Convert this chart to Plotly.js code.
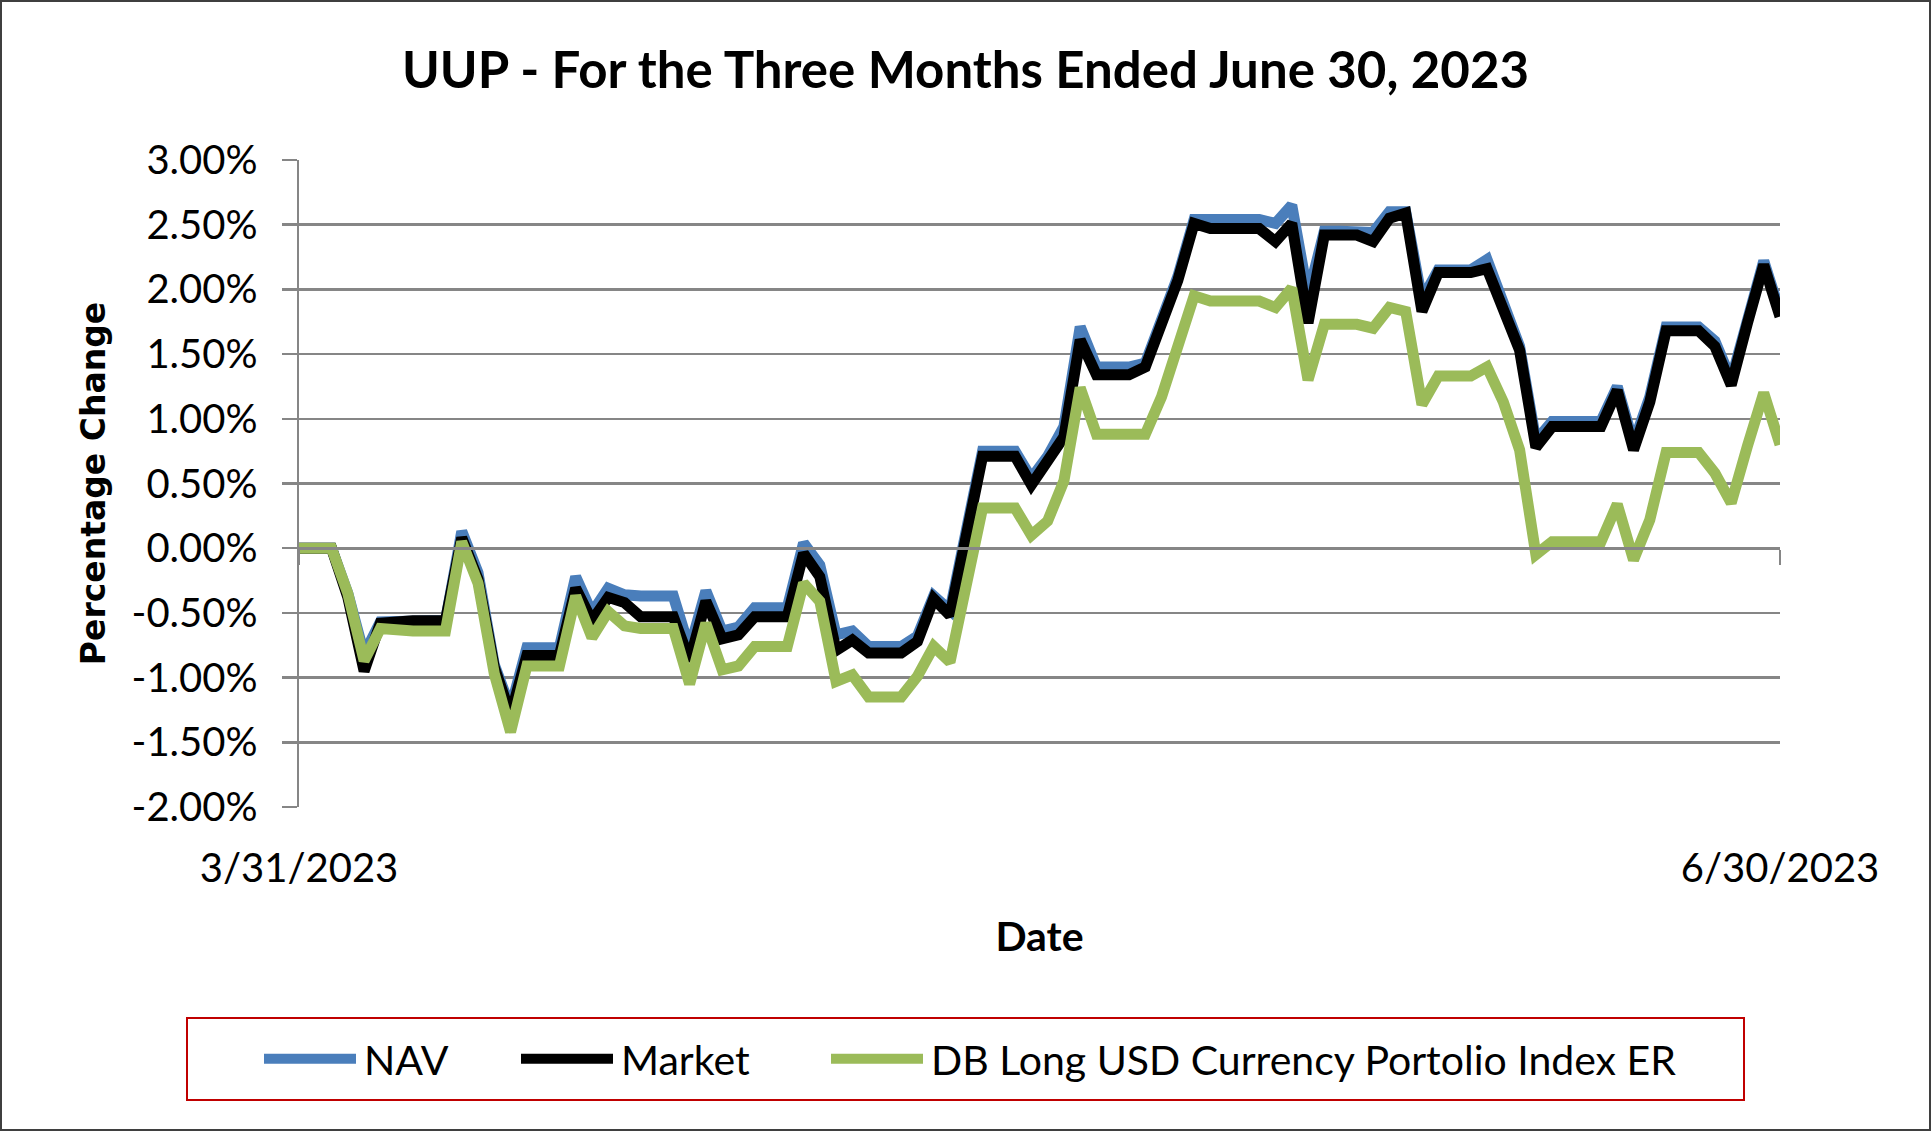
<!DOCTYPE html>
<html>
<head>
<meta charset="utf-8">
<script src="https://cdn.plot.ly/plotly-3.0.1.min.js"></script>
<style>
  html, body { margin: 0; padding: 0; background: #ffffff; }
  #chart { width: 1931px; height: 1131px; }
</style>
</head>
<body>
<div id="chart"></div>
<script>
// ---------------- DATA (calendar days, weekend/holiday values carried) ----------------
const dates = [
  '2023-03-31',
  '2023-04-01','2023-04-02','2023-04-03','2023-04-04','2023-04-05','2023-04-06','2023-04-07',
  '2023-04-08','2023-04-09','2023-04-10','2023-04-11','2023-04-12','2023-04-13','2023-04-14',
  '2023-04-15','2023-04-16','2023-04-17','2023-04-18','2023-04-19','2023-04-20','2023-04-21',
  '2023-04-22','2023-04-23','2023-04-24','2023-04-25','2023-04-26','2023-04-27','2023-04-28',
  '2023-04-29','2023-04-30',
  '2023-05-01','2023-05-02','2023-05-03','2023-05-04','2023-05-05','2023-05-06','2023-05-07',
  '2023-05-08','2023-05-09','2023-05-10','2023-05-11','2023-05-12','2023-05-13','2023-05-14',
  '2023-05-15','2023-05-16','2023-05-17','2023-05-18','2023-05-19','2023-05-20','2023-05-21',
  '2023-05-22','2023-05-23','2023-05-24','2023-05-25','2023-05-26','2023-05-27','2023-05-28',
  '2023-05-29','2023-05-30','2023-05-31',
  '2023-06-01','2023-06-02','2023-06-03','2023-06-04','2023-06-05','2023-06-06','2023-06-07',
  '2023-06-08','2023-06-09','2023-06-10','2023-06-11','2023-06-12','2023-06-13','2023-06-14',
  '2023-06-15','2023-06-16','2023-06-17','2023-06-18','2023-06-19','2023-06-20','2023-06-21',
  '2023-06-22','2023-06-23','2023-06-24','2023-06-25','2023-06-26','2023-06-27','2023-06-28',
  '2023-06-29','2023-06-30'
];

// NAV (percent)
const nav = [
  0.00,
  0.00, 0.00, -0.35, -0.82, -0.57, -0.56, -0.56,
  -0.56, -0.56, 0.13, -0.19, -0.90, -1.24, -0.77,
  -0.77, -0.77, -0.22, -0.50, -0.31, -0.36, -0.37,
  -0.37, -0.37, -0.78, -0.33, -0.64, -0.61, -0.46,
  -0.46, -0.46,
  0.04, -0.13, -0.67, -0.64, -0.76, -0.76, -0.76,
  -0.68, -0.37, -0.48, 0.12, 0.75, 0.75, 0.75,
  0.54, 0.71, 0.94, 1.71, 1.40, 1.40, 1.40,
  1.43, 1.74, 2.10, 2.54, 2.54, 2.54, 2.54,
  2.54, 2.51, 2.65,
  1.95, 2.45, 2.45, 2.45, 2.44, 2.60, 2.60,
  1.92, 2.15, 2.15, 2.15, 2.23, 1.87, 1.56,
  0.83, 0.98, 0.98, 0.98, 0.98, 1.25, 0.81,
  1.17, 1.71, 1.71, 1.71, 1.60, 1.30, 1.76,
  2.22, 1.82
];

// Market (percent)
const market = [
  0.00,
  0.00, 0.00, -0.38, -0.95, -0.58, -0.56, -0.56,
  -0.56, -0.56, 0.08, -0.24, -0.92, -1.29, -0.83,
  -0.83, -0.83, -0.31, -0.56, -0.38, -0.42, -0.53,
  -0.53, -0.53, -0.87, -0.41, -0.70, -0.67, -0.53,
  -0.53, -0.53,
  -0.04, -0.22, -0.79, -0.71, -0.81, -0.81, -0.81,
  -0.72, -0.39, -0.52, 0.08, 0.71, 0.71, 0.71,
  0.49, 0.67, 0.86, 1.61, 1.34, 1.34, 1.34,
  1.40, 1.71, 2.07, 2.51, 2.47, 2.47, 2.47,
  2.47, 2.37, 2.51,
  1.74, 2.42, 2.42, 2.42, 2.37, 2.55, 2.59,
  1.83, 2.13, 2.13, 2.13, 2.16, 1.82, 1.53,
  0.78, 0.94, 0.94, 0.94, 0.94, 1.22, 0.76,
  1.13, 1.68, 1.68, 1.68, 1.56, 1.26, 1.74,
  2.19, 1.79
];

// DB Long USD Currency Portfolio Index ER (percent)
const indexER = [
  0.00,
  0.00, 0.00, -0.35, -0.87, -0.62, -0.64, -0.64,
  -0.64, -0.64, 0.05, -0.27, -0.97, -1.42, -0.91,
  -0.91, -0.91, -0.37, -0.69, -0.49, -0.60, -0.62,
  -0.62, -0.62, -1.05, -0.58, -0.94, -0.91, -0.76,
  -0.76, -0.76,
  -0.27, -0.41, -1.03, -0.98, -1.15, -1.15, -1.15,
  -0.99, -0.76, -0.88, -0.30, 0.31, 0.31, 0.31,
  0.10, 0.21, 0.52, 1.24, 0.88, 0.88, 0.88,
  0.88, 1.17, 1.56, 1.95, 1.91, 1.91, 1.91,
  1.91, 1.86, 2.01,
  1.30, 1.73, 1.73, 1.73, 1.70, 1.86, 1.83,
  1.11, 1.33, 1.33, 1.33, 1.40, 1.13, 0.76,
  -0.05, 0.05, 0.05, 0.05, 0.05, 0.34, -0.09,
  0.22, 0.74, 0.74, 0.74, 0.58, 0.35, 0.79,
  1.20, 0.80
];

const seriesNames  = ['NAV', 'Market', 'DB Long USD Currency Portolio Index ER'];
const seriesValues = [nav, market, indexER];
const seriesColors = ['#4a7ebb', '#000000', '#9bbb59'];

const yTickVals = [-2, -1.5, -1, -0.5, 0, 0.5, 1, 1.5, 2, 2.5, 3];
const yTickText = ['-2.00%', '-1.50%', '-1.00%', '-0.50%', '0.00%', '0.50%',
                   '1.00%', '1.50%', '2.00%', '2.50%', '3.00%'];
const xTickVals = ['2023-03-31', '2023-06-30'];
const xTickText = ['3/31/2023', '6/30/2023'];

const chartTitle = 'UUP - For the Three Months Ended June 30, 2023';
const xTitle = 'Date';
const yTitle = 'Percentage Change';

// ---------------- LAYOUT GEOMETRY ----------------
const W = 1931, H = 1131;
const L = 299, R = 151, T = 160, B = 324;
const PW = W - L - R, PH = H - T - B;
const pxX = x => (x - L) / PW;          // pixel -> paper x
const pxY = y => (H - B - y) / PH;      // pixel -> paper y
const GRID = '#868686';
const FONT = 'Lato, Carlito, "Open Sans", sans-serif';

const legendLeft = [254, 511, 821];
const legendKeys = ['legend', 'legend2', 'legend3'];

const traces = seriesNames.map((name, i) => ({
  type: 'scatter',
  mode: 'lines',
  x: dates,
  y: seriesValues[i],
  name: name,
  legend: legendKeys[i],
  line: { color: seriesColors[i], width: 11 },
  hoverinfo: 'skip'
}));

// invisible carrier so the zero-line axis (with its end tick) is drawn
traces.push({
  type: 'scatter', mode: 'lines', x: dates, y: nav,
  xaxis: 'x2', yaxis: 'y', opacity: 0, showlegend: false,
  line: { width: 0 }, hoverinfo: 'skip'
});

const layout = {
  width: W, height: H,
  margin: { l: L, r: R, t: T, b: B, pad: 0 },
  paper_bgcolor: '#ffffff',
  plot_bgcolor: '#ffffff',
  font: { family: FONT, color: '#000000', size: 40 },
  showlegend: true,
  title: {
    text: chartTitle,
    font: { family: FONT, size: 51, weight: 700, color: '#000000' },
    x: 0.5, xref: 'container', xanchor: 'center',
    y: 1 - 70 / H, yref: 'container', yanchor: 'middle'
  },
  xaxis: {
    type: 'date',
    range: [dates[0], dates[dates.length - 1]],
    tickmode: 'array', tickvals: xTickVals, ticktext: xTickText,
    showgrid: false, zeroline: false, showline: false, ticks: '',
    tickfont: { family: FONT, size: 40, color: '#000000' },
    ticklabelstandoff: 34,
    automargin: false,
    fixedrange: true,
    title: { text: xTitle, font: { family: FONT, size: 41, weight: 700, color: '#000000' }, standoff: 32 }
  },
  xaxis2: {
    type: 'date',
    overlaying: 'x', anchor: 'free', position: 0.4, side: 'bottom',
    range: [dates[0], dates[dates.length - 1]],
    tickmode: 'array', tickvals: xTickVals,
    showticklabels: false, showgrid: false, zeroline: false,
    showline: true, linecolor: GRID, linewidth: 2.5,
    ticks: 'outside', ticklen: 15, tickwidth: 2.5, tickcolor: GRID,
    fixedrange: true
  },
  yaxis: {
    range: [-2, 3],
    tickmode: 'array', tickvals: yTickVals, ticktext: yTickText,
    showgrid: true, gridcolor: GRID, gridwidth: 2.5,
    zeroline: false,
    showline: true, linecolor: GRID, linewidth: 2.5,
    ticks: 'outside', ticklen: 15, tickwidth: 2.5, tickcolor: GRID,
    tickfont: { family: FONT, size: 40, color: '#000000' },
    ticklabelstandoff: 16,
    automargin: false,
    fixedrange: true,
    title: { text: yTitle, font: { family: '"DejaVu Sans", Verdana, sans-serif', size: 33, weight: 700, color: '#000000' }, standoff: 16 }
  },
  shapes: [
    // outer frame of the chart
    { type: 'rect', xref: 'paper', yref: 'paper', layer: 'above',
      x0: pxX(1), x1: pxX(W - 1), y0: pxY(H - 1), y1: pxY(1),
      line: { color: '#3f3f3f', width: 2 }, fillcolor: 'rgba(0,0,0,0)' },
    // legend frame
    { type: 'rect', xref: 'paper', yref: 'paper', layer: 'above',
      x0: pxX(187), x1: pxX(1744), y0: pxY(1100), y1: pxY(1018),
      line: { color: '#c00000', width: 2 }, fillcolor: 'rgba(0,0,0,0)' }
  ]
};

legendKeys.forEach((k, i) => {
  layout[k] = {
    orientation: 'h',
    x: legendLeft[i] / W, xref: 'container', xanchor: 'left',
    y: 1 - 1059 / H, yref: 'container', yanchor: 'middle',
    itemwidth: 100,
    font: { family: FONT, size: 41, color: '#000000' },
    bgcolor: 'rgba(0,0,0,0)', borderwidth: 0
  };
});

Plotly.newPlot('chart', traces, layout, { staticPlot: true, displayModeBar: false })
  .then(gd => {
    // lengthen the legend line samples to the Excel-style long keys
    gd.querySelectorAll('.legendlines path').forEach(p => p.setAttribute('d', 'M10,0h92'));
  });
</script>
</body>
</html>
